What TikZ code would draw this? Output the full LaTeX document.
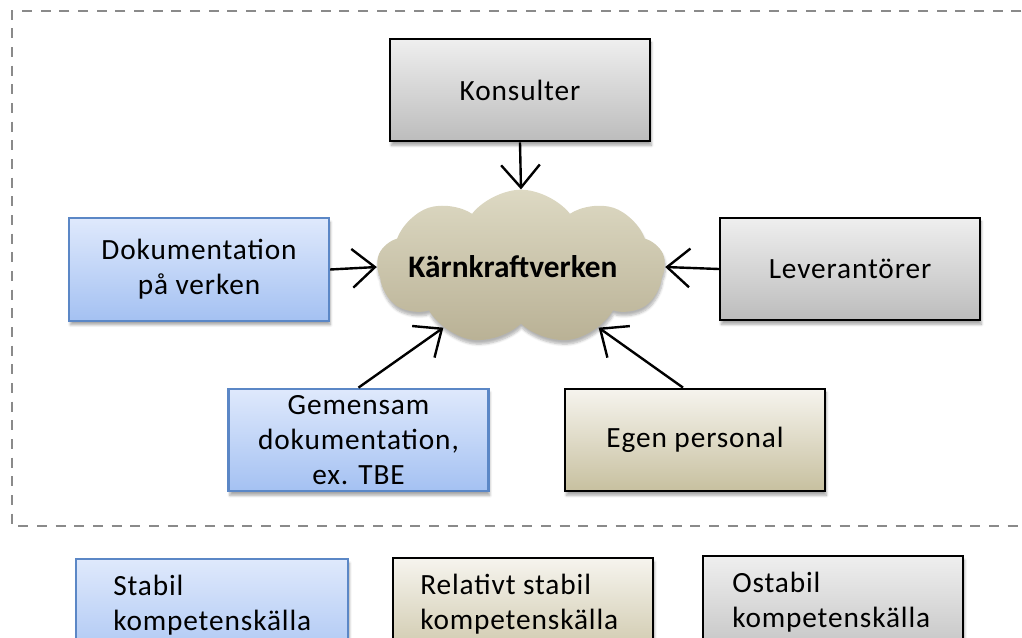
\documentclass[tikz,border=0pt]{standalone}
\usepackage{fontspec}
\setmainfont{Carlito}[LetterSpace=3]
\newfontfamily\cloudfont{Carlito}
\usetikzlibrary{shapes.symbols,arrows.meta,shadows.blur}

\definecolor{frameGray}{HTML}{8A8A8A}
\definecolor{grayTop}{HTML}{EFEFEF}
\definecolor{grayBot}{HTML}{BCBCBC}
\definecolor{blueTop}{HTML}{DFE9FC}
\definecolor{blueBot}{HTML}{A4C1F2}
\definecolor{blueEdge}{HTML}{5B87C6}
\definecolor{tanTop}{HTML}{F6F4EE}
\definecolor{tanBot}{HTML}{C7C09F}
\definecolor{cloudTop}{HTML}{DDD9C3}
\definecolor{cloudBot}{HTML}{B9B195}

\tikzset{
  srcbox/.style={draw, line width=1.6pt, rectangle, minimum width=195pt,
    minimum height=77pt, inner sep=2pt, align=center,
    blur shadow={shadow xshift=1pt, shadow yshift=-3pt, shadow blur steps=6, shadow opacity=35}},
  graybox/.style={srcbox, draw=black, top color=grayTop, bottom color=grayBot},
  bluebox/.style={srcbox, draw=blueEdge, top color=blueTop, bottom color=blueBot},
  tanbox/.style={srcbox, draw=black, top color=tanTop, bottom color=tanBot},
  legendtext/.style={anchor=west, inner sep=0pt, align=left},
  feed/.style={line width=1.8pt, -{Straight Barb[length=17pt,width=29pt,line width=1.8pt]}},
}

\begin{document}
\begin{tikzpicture}[x=0.75pt, y=-0.75pt, font=\fontsize{22}{26.5}\selectfont]
  \useasboundingbox (0,0) rectangle (1022,637);
  \clip (0,0) rectangle (1022,637);

  % dashed boundary around the sources
  \draw[frameGray, line width=1.5pt, dash pattern=on 7.5pt off 6.5pt]
    (1040,11) -- (12,11) -- (12,526) -- (1040,526);

  % the plants
  \node[cloud, cloud puffs=9, cloud puff arc=105, cloud ignores aspect,
        minimum width=216pt, minimum height=116pt,
        top color=cloudTop, bottom color=cloudBot,
        blur shadow={shadow xshift=0.5pt, shadow yshift=-3pt, shadow blur steps=6, shadow opacity=30}]
    (cloud) at (521,267) {};
  \node (cloudlabel) at (513,267) {\cloudfont\fontsize{23.5}{28}\selectfont\bfseries Kärnkraftverken};

  % knowledge sources
  \node[graybox] (kons) at (520,90)    {Konsulter};
  \node[bluebox] (dok)  at (199,269.5) {Dokumentation\\på verken};
  \node[graybox] (lev)  at (850,269)   {Leverantörer};
  \node[bluebox] (gem)  at (358.5,440) {Gemensam\\dokumentation,\\ex. TBE};
  \node[tanbox]  (egen) at (695,440)   {Egen personal};

  % flows into the plants
  \draw[feed] (kons.south) -- (cloud.north);
  \draw[feed] (dok.east) -- (cloud.west);
  \draw[feed] (lev.west) -- (cloud.east);
  \draw[feed] (gem.north) -- (cloud.218);
  \draw[feed] ([xshift=-9pt]egen.north) -- (cloud.-38);

  % legend
  \node[bluebox, minimum width=204pt, minimum height=86pt, anchor=north west] (leg1) at (75,558) {};
  \node[tanbox,  minimum width=195pt, minimum height=86pt, anchor=north west] (leg2) at (392,557) {};
  \node[graybox, minimum width=195pt, minimum height=86pt, anchor=north west] (leg3) at (702,555) {};
  \node[legendtext] (leg1text) at (113,605) {Stabil\\kompetenskälla};
  \node[legendtext] (leg2text) at (420,604) {Relativt stabil\\kompetenskälla};
  \node[legendtext] (leg3text) at (732,602) {Ostabil\\kompetenskälla};
\end{tikzpicture}
\end{document}
